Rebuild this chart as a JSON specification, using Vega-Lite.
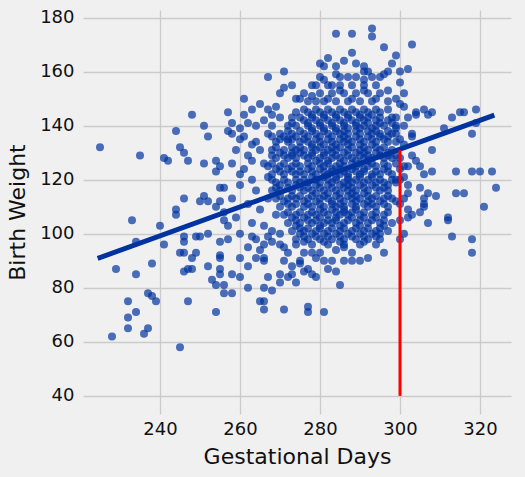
{
"$schema":"https://vega.github.io/schema/vega-lite/v6.json",
"autosize":{"type":"none"},
"width":428,"height":404,
"padding":{"left":83,"top":10,"right":14,"bottom":63},
"background":"#f0f0f0",
"config":{"view":{"stroke":null},"font":"DejaVu Sans",
"axis":{"grid":true,"gridColor":"#cbcbcb","gridWidth":1.3,"domain":false,"ticks":false,"labelFont":"DejaVu Sans","labelFontSize":18,"labelColor":"#111111","titleFont":"DejaVu Sans","titleFontSize":22,"titleFontWeight":"normal","titleColor":"#111111"}},
"datasets":{
"births":[
{"days":225,"weight":132},{"days":235,"weight":129},{"days":248,"weight":144},{"days":251,"weight":140},{"days":257,"weight":145},{"days":244,"weight":138},{"days":252,"weight":136},{"days":257,"weight":138},{"days":245,"weight":132},{"days":246,"weight":130},{"days":241,"weight":128},{"days":242,"weight":127},{"days":247,"weight":127},{"days":251,"weight":126},{"days":254,"weight":127},{"days":255,"weight":125},{"days":254,"weight":123},{"days":255,"weight":117},{"days":256,"weight":117},{"days":246,"weight":113},{"days":250,"weight":112},{"days":251,"weight":114},{"days":252,"weight":112},{"days":255,"weight":112},{"days":254,"weight":110},{"days":244,"weight":109},{"days":244,"weight":107},{"days":233,"weight":105},{"days":240,"weight":103},{"days":256,"weight":108},{"days":256,"weight":105},{"days":257,"weight":103},
{"days":234,"weight":97},{"days":229,"weight":87},{"days":234,"weight":85},{"days":238,"weight":89},{"days":241,"weight":96},{"days":245,"weight":93},{"days":246,"weight":93},{"days":246,"weight":97},{"days":246,"weight":99},{"days":248,"weight":91},{"days":249,"weight":93},{"days":247,"weight":87},{"days":248,"weight":87},{"days":246,"weight":86},{"days":252,"weight":88},{"days":249,"weight":99},{"days":250,"weight":99},{"days":252,"weight":100},{"days":255,"weight":97},{"days":257,"weight":98},{"days":255,"weight":92},{"days":255,"weight":91},{"days":255,"weight":87},{"days":255,"weight":85},{"days":253,"weight":83},{"days":254,"weight":81},{"days":256,"weight":81},{"days":256,"weight":78},{"days":237,"weight":78},{"days":238,"weight":77},{"days":239,"weight":75},{"days":232,"weight":75},{"days":234,"weight":71},{"days":232,"weight":69},{"days":232,"weight":65},{"days":237,"weight":65},{"days":236,"weight":63},{"days":228,"weight":62},{"days":247,"weight":75},{"days":254,"weight":71},{"days":245,"weight":58},
{"days":258,"weight":78},{"days":258,"weight":85},{"days":260,"weight":84},{"days":262,"weight":80},{"days":262,"weight":88},{"days":260,"weight":91},{"days":264,"weight":91},{"days":266,"weight":91},{"days":266,"weight":90},{"days":267,"weight":84},{"days":266,"weight":80},{"days":268,"weight":79},{"days":265,"weight":75},{"days":266,"weight":75},{"days":266,"weight":72},{"days":271,"weight":72},{"days":270,"weight":85},{"days":270,"weight":82},{"days":272,"weight":84},{"days":274,"weight":82},{"days":273,"weight":88},{"days":275,"weight":89},{"days":277,"weight":87},{"days":273,"weight":85},{"days":276,"weight":86},{"days":278,"weight":85},{"days":279,"weight":84},{"days":277,"weight":73},{"days":277,"weight":71},{"days":281,"weight":71},{"days":282,"weight":87},{"days":284,"weight":86},{"days":285,"weight":81},{"days":286,"weight":90},{"days":290,"weight":90},{"days":292,"weight":91},{"days":284,"weight":94},{"days":278,"weight":93},{"days":279,"weight":91},{"days":292,"weight":98},{"days":295,"weight":100},{"days":286,"weight":95},{"days":282,"weight":96},
{"days":282,"weight":165},{"days":280,"weight":163},{"days":271,"weight":160},{"days":267,"weight":158},{"days":271,"weight":154},{"days":279,"weight":155},{"days":283,"weight":155},{"days":274,"weight":150},{"days":275,"weight":150},{"days":279,"weight":149},{"days":263,"weight":146},{"days":267,"weight":146},{"days":261,"weight":144},{"days":270,"weight":143},{"days":260,"weight":139},{"days":258,"weight":137},{"days":260,"weight":135},{"days":261,"weight":136},{"days":264,"weight":134},{"days":268,"weight":136},{"days":272,"weight":135},
{"days":284,"weight":174},{"days":288,"weight":174},{"days":293,"weight":176},{"days":293,"weight":173},{"days":303,"weight":170},{"days":296,"weight":169},{"days":288,"weight":167},{"days":299,"weight":166},{"days":286,"weight":164},{"days":289,"weight":163},{"days":284,"weight":162},{"days":298,"weight":163},{"days":297,"weight":160},{"days":296,"weight":159},{"days":295,"weight":158},{"days":300,"weight":160},{"days":302,"weight":161},{"days":291,"weight":160},{"days":292,"weight":160},{"days":289,"weight":158},{"days":285,"weight":158},{"days":291,"weight":157},{"days":300,"weight":156},{"days":294,"weight":155},{"days":297,"weight":153},{"days":295,"weight":152},{"days":301,"weight":152},{"days":301,"weight":147},{"days":304,"weight":145},{"days":306,"weight":146},{"days":308,"weight":145},{"days":299,"weight":143},
{"days":304,"weight":144},{"days":307,"weight":144},{"days":313,"weight":143},{"days":315,"weight":145},{"days":316,"weight":145},{"days":319,"weight":146},{"days":319,"weight":141},{"days":311,"weight":139},{"days":318,"weight":137},{"days":303,"weight":137},{"days":303,"weight":136},{"days":301,"weight":133},{"days":308,"weight":131},{"days":303,"weight":129},{"days":304,"weight":127},{"days":305,"weight":125},{"days":302,"weight":125},{"days":301,"weight":125},{"days":306,"weight":122},{"days":308,"weight":123},{"days":314,"weight":123},{"days":318,"weight":123},{"days":320,"weight":123},{"days":323,"weight":123},{"days":324,"weight":117},{"days":314,"weight":115},{"days":316,"weight":115},{"days":305,"weight":117},{"days":302,"weight":115},{"days":307,"weight":115},{"days":309,"weight":114},{"days":306,"weight":113},{"days":306,"weight":111},{"days":306,"weight":110},{"days":301,"weight":113},{"days":302,"weight":109},{"days":305,"weight":108},{"days":303,"weight":107},{"days":302,"weight":106},{"days":307,"weight":104},{"days":312,"weight":106},{"days":312,"weight":105},{"days":321,"weight":110},{"days":313,"weight":99},{"days":318,"weight":98},{"days":318,"weight":93},{"days":299,"weight":139},{"days":299,"weight":137},{"days":299,"weight":129},{"days":299,"weight":126},{"days":300,"weight":124},{"days":299,"weight":120},{"days":300,"weight":120},{"days":299,"weight":112},{"days":300,"weight":111},
{"days":300,"weight":105},{"days":301,"weight":100},{"days":300,"weight":98},{"days":302,"weight":118},{"days":301,"weight":121},{"days":300,"weight":128},{"days":300,"weight":135},{"days":301,"weight":140},{"days":302,"weight":143},{"days":300,"weight":148},{"days":299,"weight":150},
{"days":258,"weight":141},{"days":262,"weight":141},{"days":264,"weight":140},{"days":266,"weight":142},{"days":259,"weight":131},{"days":262,"weight":129},{"days":263,"weight":133},{"days":265,"weight":131},{"days":267,"weight":137},{"days":258,"weight":126},{"days":261,"weight":124},{"days":263,"weight":120},{"days":266,"weight":126},{"days":264,"weight":116},{"days":260,"weight":118},{"days":258,"weight":113},{"days":262,"weight":111},{"days":265,"weight":109},{"days":267,"weight":113},{"days":259,"weight":106},{"days":263,"weight":104},{"days":266,"weight":103},{"days":260,"weight":100},{"days":264,"weight":98},{"days":268,"weight":101},{"days":262,"weight":95},{"days":266,"weight":96},{"days":268,"weight":144},{"days":265,"weight":148},{"days":261,"weight":150},{"days":269,"weight":147},{"days":270,"weight":152},{"days":273,"weight":155},{"days":268,"weight":140},{"days":267,"weight":121},{"days":269,"weight":107},{"days":263,"weight":127},{"days":260,"weight":122},{"days":263,"weight":99},{"days":268,"weight":97},{"days":270,"weight":100},{"days":271,"weight":95},{"days":265,"weight":94},{"days":267,"weight":99},
{"days":276,"weight":146},{"days":279,"weight":146},{"days":282,"weight":146},{"days":285,"weight":146},{"days":288,"weight":146},{"days":291,"weight":146},{"days":294,"weight":146},{"days":297,"weight":146},
{"days":273,"weight":143},{"days":275,"weight":143},{"days":278,"weight":143},{"days":281,"weight":143},{"days":284,"weight":143},{"days":287,"weight":143},{"days":290,"weight":143},{"days":292,"weight":143},{"days":295,"weight":143},{"days":298,"weight":143},
{"days":272,"weight":140},{"days":274,"weight":140},{"days":277,"weight":140},{"days":280,"weight":140},{"days":283,"weight":140},{"days":286,"weight":140},{"days":289,"weight":140},{"days":291,"weight":140},{"days":294,"weight":140},{"days":296,"weight":140},{"days":299,"weight":140},
{"days":270,"weight":137},{"days":273,"weight":137},{"days":276,"weight":137},{"days":279,"weight":137},{"days":282,"weight":137},{"days":285,"weight":137},{"days":287,"weight":137},{"days":290,"weight":137},{"days":293,"weight":137},{"days":295,"weight":137},{"days":298,"weight":137},
{"days":269,"weight":134},{"days":272,"weight":134},{"days":275,"weight":134},{"days":277,"weight":134},{"days":280,"weight":134},{"days":283,"weight":134},{"days":286,"weight":134},{"days":288,"weight":134},{"days":291,"weight":134},{"days":294,"weight":134},{"days":297,"weight":134},{"days":299,"weight":134},
{"days":268,"weight":131},{"days":271,"weight":131},{"days":274,"weight":131},{"days":276,"weight":131},{"days":279,"weight":131},{"days":282,"weight":131},{"days":284,"weight":131},{"days":287,"weight":131},{"days":290,"weight":131},{"days":292,"weight":131},{"days":295,"weight":131},{"days":298,"weight":131},
{"days":269,"weight":128},{"days":272,"weight":128},{"days":274,"weight":128},{"days":277,"weight":128},{"days":280,"weight":128},{"days":283,"weight":128},{"days":285,"weight":128},{"days":288,"weight":128},{"days":291,"weight":128},{"days":293,"weight":128},{"days":296,"weight":128},{"days":298,"weight":128},
{"days":267,"weight":125},{"days":270,"weight":125},{"days":273,"weight":125},{"days":275,"weight":125},{"days":278,"weight":125},{"days":281,"weight":125},{"days":284,"weight":125},{"days":286,"weight":125},{"days":289,"weight":125},{"days":292,"weight":125},{"days":294,"weight":125},{"days":297,"weight":125},
{"days":268,"weight":122},{"days":271,"weight":122},{"days":274,"weight":122},{"days":276,"weight":122},{"days":279,"weight":122},{"days":282,"weight":122},{"days":285,"weight":122},{"days":287,"weight":122},{"days":290,"weight":122},{"days":293,"weight":122},{"days":295,"weight":122},{"days":298,"weight":122},
{"days":269,"weight":119},{"days":272,"weight":119},{"days":275,"weight":119},{"days":277,"weight":119},{"days":280,"weight":119},{"days":283,"weight":119},{"days":286,"weight":119},{"days":288,"weight":119},{"days":291,"weight":119},{"days":294,"weight":119},{"days":296,"weight":119},{"days":299,"weight":119},
{"days":268,"weight":116},{"days":270,"weight":116},{"days":273,"weight":116},{"days":276,"weight":116},{"days":278,"weight":116},{"days":281,"weight":116},{"days":284,"weight":116},{"days":287,"weight":116},{"days":289,"weight":116},{"days":292,"weight":116},{"days":295,"weight":116},{"days":297,"weight":116},
{"days":269,"weight":113},{"days":272,"weight":113},{"days":274,"weight":113},{"days":277,"weight":113},{"days":280,"weight":113},{"days":282,"weight":113},{"days":285,"weight":113},{"days":288,"weight":113},{"days":290,"weight":113},{"days":293,"weight":113},{"days":296,"weight":113},{"days":298,"weight":113},
{"days":270,"weight":110},{"days":273,"weight":110},{"days":276,"weight":110},{"days":278,"weight":110},{"days":281,"weight":110},{"days":284,"weight":110},{"days":286,"weight":110},{"days":289,"weight":110},{"days":292,"weight":110},{"days":294,"weight":110},{"days":297,"weight":110},
{"days":271,"weight":107},{"days":274,"weight":107},{"days":277,"weight":107},{"days":279,"weight":107},{"days":282,"weight":107},{"days":285,"weight":107},{"days":287,"weight":107},{"days":290,"weight":107},{"days":293,"weight":107},{"days":296,"weight":107},
{"days":272,"weight":104},{"days":275,"weight":104},{"days":278,"weight":104},{"days":281,"weight":104},{"days":283,"weight":104},{"days":286,"weight":104},{"days":289,"weight":104},{"days":292,"weight":104},{"days":295,"weight":104},{"days":298,"weight":104},
{"days":273,"weight":101},{"days":276,"weight":101},{"days":279,"weight":101},{"days":282,"weight":101},{"days":285,"weight":101},{"days":288,"weight":101},{"days":291,"weight":101},{"days":294,"weight":101},{"days":297,"weight":101},
{"days":274,"weight":98},{"days":277,"weight":98},{"days":280,"weight":98},{"days":283,"weight":98},{"days":286,"weight":98},{"days":289,"weight":98},{"days":295,"weight":98},
{"days":278,"weight":139},{"days":281,"weight":139},{"days":284,"weight":139},{"days":287,"weight":139},{"days":290,"weight":139},{"days":293,"weight":139},
{"days":278,"weight":133},{"days":281,"weight":133},{"days":284,"weight":133},{"days":287,"weight":133},{"days":290,"weight":133},{"days":293,"weight":133},
{"days":279,"weight":127},{"days":282,"weight":127},{"days":286,"weight":127},{"days":289,"weight":127},{"days":292,"weight":127},
{"days":278,"weight":121},{"days":281,"weight":121},{"days":284,"weight":121},{"days":287,"weight":121},{"days":290,"weight":121},{"days":293,"weight":121},
{"days":279,"weight":115},{"days":282,"weight":115},{"days":285,"weight":115},{"days":288,"weight":115},{"days":291,"weight":115},
{"days":280,"weight":109},{"days":283,"weight":109},{"days":286,"weight":109},{"days":289,"weight":109},
{"days":277,"weight":149},{"days":281,"weight":149},{"days":284,"weight":149},{"days":287,"weight":149},{"days":290,"weight":149},{"days":293,"weight":149},{"days":297,"weight":149},
{"days":276,"weight":152},{"days":280,"weight":152},{"days":283,"weight":152},{"days":286,"weight":152},{"days":289,"weight":152},{"days":292,"weight":152},
{"days":278,"weight":155},{"days":282,"weight":155},{"days":285,"weight":155},{"days":288,"weight":155},{"days":291,"weight":155},
{"days":280,"weight":158},{"days":287,"weight":158},{"days":293,"weight":158},{"days":281,"weight":162},{"days":291,"weight":162},
{"days":270,"weight":96},{"days":274,"weight":96},{"days":278,"weight":96},{"days":286,"weight":96},{"days":290,"weight":96},{"days":294,"weight":96},
{"days":272,"weight":93},{"days":276,"weight":93},{"days":280,"weight":93},{"days":288,"weight":93},{"days":296,"weight":93},
{"days":271,"weight":90},{"days":275,"weight":90},{"days":281,"weight":90},{"days":283,"weight":90},{"days":288,"weight":90},
{"days":274,"weight":145},{"days":277,"weight":145},{"days":280,"weight":145},{"days":283,"weight":145},{"days":286,"weight":145},{"days":289,"weight":145},{"days":292,"weight":145},{"days":295,"weight":145},
{"days":276,"weight":142},{"days":279,"weight":142},{"days":282,"weight":142},{"days":285,"weight":142},{"days":288,"weight":142},{"days":291,"weight":142},{"days":294,"weight":142},{"days":297,"weight":142},
{"days":271,"weight":136},{"days":274,"weight":136},{"days":277,"weight":136},{"days":280,"weight":136},{"days":283,"weight":136},{"days":286,"weight":136},{"days":289,"weight":136},{"days":292,"weight":136},{"days":295,"weight":136},{"days":297,"weight":136},
{"days":270,"weight":130},{"days":273,"weight":130},{"days":275,"weight":130},{"days":278,"weight":130},{"days":281,"weight":130},{"days":283,"weight":130},{"days":286,"weight":130},{"days":289,"weight":130},{"days":291,"weight":130},{"days":294,"weight":130},{"days":297,"weight":130},
{"days":269,"weight":124},{"days":272,"weight":124},{"days":277,"weight":124},{"days":280,"weight":124},{"days":283,"weight":124},{"days":285,"weight":124},{"days":288,"weight":124},{"days":291,"weight":124},{"days":296,"weight":124},
{"days":270,"weight":118},{"days":274,"weight":118},{"days":279,"weight":118},{"days":282,"weight":118},{"days":285,"weight":118},{"days":287,"weight":118},{"days":290,"weight":118},{"days":293,"weight":118},{"days":297,"weight":118},
{"days":271,"weight":112},{"days":276,"weight":112},{"days":279,"weight":112},{"days":283,"weight":112},{"days":286,"weight":112},{"days":289,"weight":112},{"days":292,"weight":112},{"days":295,"weight":112},
{"days":273,"weight":106},{"days":276,"weight":106},{"days":280,"weight":106},{"days":284,"weight":106},{"days":288,"weight":106},{"days":291,"weight":106},{"days":294,"weight":106},
{"days":275,"weight":100},{"days":278,"weight":100},{"days":281,"weight":100},{"days":284,"weight":100},{"days":287,"weight":100},{"days":290,"weight":100},{"days":293,"weight":100},
{"days":274,"weight":103},{"days":280,"weight":103},{"days":285,"weight":103},{"days":290,"weight":103},{"days":296,"weight":103},
{"days":276,"weight":97},{"days":281,"weight":97},{"days":285,"weight":97},{"days":291,"weight":97},
{"days":278,"weight":151},{"days":282,"weight":150},{"days":285,"weight":153},{"days":288,"weight":150},{"days":291,"weight":153},{"days":294,"weight":150},{"days":281,"weight":157},{"days":284,"weight":159},
{"days":278,"weight":144},{"days":281,"weight":144},{"days":284,"weight":144},{"days":287,"weight":144},{"days":290,"weight":144},{"days":293,"weight":144},
{"days":273,"weight":141},{"days":277,"weight":141},{"days":280,"weight":141},{"days":283,"weight":141},{"days":286,"weight":141},{"days":289,"weight":141},{"days":292,"weight":141},{"days":295,"weight":141},{"days":298,"weight":141},
{"days":272,"weight":138},{"days":275,"weight":138},{"days":278,"weight":138},{"days":281,"weight":138},{"days":284,"weight":138},{"days":286,"weight":138},{"days":289,"weight":138},{"days":292,"weight":138},{"days":294,"weight":138},{"days":297,"weight":138},
{"days":270,"weight":135},{"days":273,"weight":135},{"days":276,"weight":135},{"days":279,"weight":135},{"days":282,"weight":135},{"days":285,"weight":135},{"days":287,"weight":135},{"days":290,"weight":135},{"days":293,"weight":135},{"days":296,"weight":135},
{"days":269,"weight":132},{"days":273,"weight":132},{"days":275,"weight":132},{"days":278,"weight":132},{"days":280,"weight":132},{"days":283,"weight":132},{"days":285,"weight":132},{"days":288,"weight":132},{"days":291,"weight":132},{"days":294,"weight":132},{"days":296,"weight":132},
{"days":268,"weight":129},{"days":271,"weight":129},{"days":273,"weight":129},{"days":276,"weight":129},{"days":278,"weight":129},{"days":281,"weight":129},{"days":284,"weight":129},{"days":287,"weight":129},{"days":290,"weight":129},{"days":292,"weight":129},{"days":295,"weight":129},{"days":297,"weight":129},
{"days":268,"weight":126},{"days":271,"weight":126},{"days":274,"weight":126},{"days":277,"weight":126},{"days":280,"weight":126},{"days":282,"weight":126},{"days":285,"weight":126},{"days":288,"weight":126},{"days":290,"weight":126},{"days":293,"weight":126},{"days":296,"weight":126},
{"days":270,"weight":123},{"days":273,"weight":123},{"days":275,"weight":123},{"days":278,"weight":123},{"days":281,"weight":123},{"days":283,"weight":123},{"days":286,"weight":123},{"days":289,"weight":123},{"days":291,"weight":123},{"days":294,"weight":123},{"days":297,"weight":123},
{"days":268,"weight":120},{"days":271,"weight":120},{"days":274,"weight":120},{"days":276,"weight":120},{"days":279,"weight":120},{"days":282,"weight":120},{"days":284,"weight":120},{"days":287,"weight":120},{"days":289,"weight":120},{"days":292,"weight":120},{"days":295,"weight":120},{"days":298,"weight":120},
{"days":269,"weight":117},{"days":272,"weight":117},{"days":275,"weight":117},{"days":277,"weight":117},{"days":280,"weight":117},{"days":283,"weight":117},{"days":286,"weight":117},{"days":288,"weight":117},{"days":291,"weight":117},{"days":294,"weight":117},{"days":296,"weight":117},
{"days":270,"weight":114},{"days":273,"weight":114},{"days":275,"weight":114},{"days":278,"weight":114},{"days":281,"weight":114},{"days":284,"weight":114},{"days":287,"weight":114},{"days":289,"weight":114},{"days":292,"weight":114},{"days":294,"weight":114},{"days":297,"weight":114},
{"days":272,"weight":111},{"days":274,"weight":111},{"days":277,"weight":111},{"days":280,"weight":111},{"days":283,"weight":111},{"days":285,"weight":111},{"days":288,"weight":111},{"days":291,"weight":111},{"days":293,"weight":111},{"days":296,"weight":111},
{"days":272,"weight":108},{"days":275,"weight":108},{"days":278,"weight":108},{"days":281,"weight":108},{"days":284,"weight":108},{"days":286,"weight":108},{"days":288,"weight":108},{"days":291,"weight":108},{"days":294,"weight":108},{"days":297,"weight":108},
{"days":274,"weight":105},{"days":277,"weight":105},{"days":279,"weight":105},{"days":282,"weight":105},{"days":284,"weight":105},{"days":287,"weight":105},{"days":290,"weight":105},{"days":293,"weight":105},{"days":296,"weight":105},
{"days":275,"weight":102},{"days":277,"weight":102},{"days":280,"weight":102},{"days":283,"weight":102},{"days":286,"weight":102},{"days":289,"weight":102},{"days":292,"weight":102},{"days":295,"weight":102},
{"days":276,"weight":99},{"days":279,"weight":99},{"days":282,"weight":99},{"days":285,"weight":99},{"days":288,"weight":99},{"days":291,"weight":99},{"days":294,"weight":99}
],
"fit":[{"days":225,"weight":91.2},{"days":323,"weight":143.6}],
"marker":[{"days":300,"low":40,"high":131}]
},
"layer":[
{"data":{"name":"births"},"mark":{"type":"circle","size":64,"opacity":0.7,"color":"#0033a0"},
"encoding":{
"x":{"field":"days","type":"quantitative","scale":{"domain":[220.75,327.75],"nice":false,"zero":false},"axis":{"values":[240,260,280,300,320],"title":"Gestational Days","labelPadding":6,"titlePadding":8}},
"y":{"field":"weight","type":"quantitative","scale":{"domain":[33.3,182.8],"nice":false,"zero":false},"axis":{"values":[40,60,80,100,120,140,160,180],"title":"Birth Weight","labelPadding":9,"titlePadding":10}}}},
{"data":{"name":"fit"},"mark":{"type":"line","color":"#0033a0","strokeWidth":5,"strokeCap":"square"},
"encoding":{"x":{"field":"days","type":"quantitative"},"y":{"field":"weight","type":"quantitative"}}},
{"data":{"name":"marker"},"mark":{"type":"rule","color":"red","strokeWidth":3},
"encoding":{"x":{"field":"days","type":"quantitative"},"y":{"field":"low","type":"quantitative"},"y2":{"field":"high"}}}
]
}
